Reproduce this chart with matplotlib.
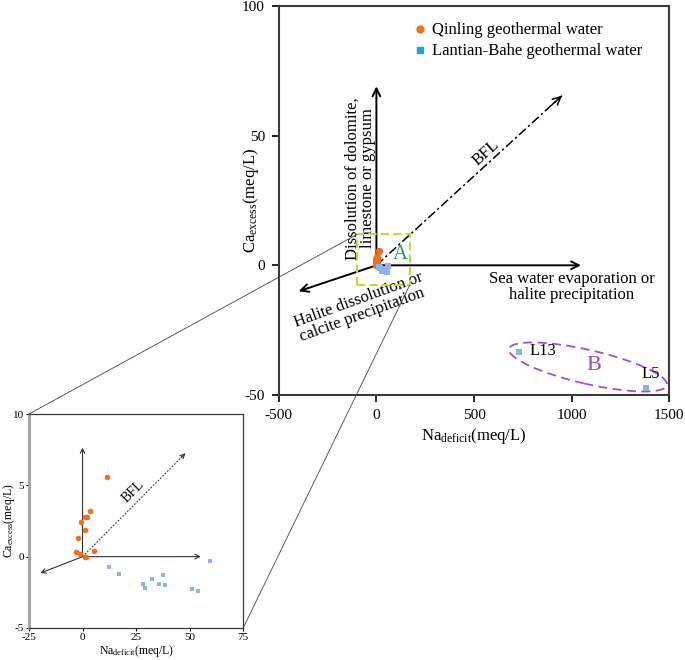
import matplotlib
matplotlib.use("Agg")
import matplotlib.pyplot as plt
from matplotlib.patches import Ellipse, Rectangle, ConnectionPatch
from matplotlib.lines import Line2D

plt.rcParams['font.family'] = ['Liberation Serif', 'DejaVu Serif']
plt.rcParams['mathtext.fontset'] = 'custom'
plt.rcParams['mathtext.rm'] = 'Liberation Serif'
plt.rcParams['mathtext.it'] = 'Liberation Serif:italic'
plt.rcParams['axes.unicode_minus'] = False

# ---- data ----
qin_na = [11.6, 3.3, 1.0, 2.1, -0.9, 1.0, -2.1, -3.2, -1.3, 5.2, 1.0, 1.5]
qin_ca = [5.6, 3.2, 2.8, 2.8, 2.4, 1.9, 1.3, 0.3, 0.2, 0.4, 0.0, 0.0]
lb_na = [12.2, 17.1, 28.0, 29.0, 32.6, 35.6, 37.8, 38.4, 50.9, 53.7, 59.4, 730, 1381]
lb_ca = [-0.7, -1.2, -1.9, -2.2, -1.6, -1.9, -1.3, -2.0, -2.3, -2.4, -0.3, -33.5, -47.3]
labels_pts = ["L13", "L5"]
main_xticks = [-500, 0, 500, 1000, 1500]
main_yticks = [-50, 0, 50, 100]
in_xticks = [-25, 0, 25, 50, 75]
in_yticks = [-5, 0, 5, 10]

orange = '#F07022'
blue = '#8DB4E2'
blue_leg = '#1FA3DA'
spine_c = '#3a3a3a'

fig = plt.figure(figsize=(6.85, 6.6), dpi=100)
ax = fig.add_axes([0.407, 0.4015, 0.570, 0.5895])
axin = fig.add_axes([0.0423, 0.0485, 0.3127, 0.3242])

# ---------------- main axes ----------------
ax.set_xlim(-500, 1500)
ax.set_ylim(-50, 100)
ax.set_xticks(main_xticks)
ax.set_yticks(main_yticks)
ax.tick_params(direction='out', length=5, width=1.2, labelsize=11, colors='black', pad=5)
for s in ax.spines.values():
    s.set_color(spine_c)
    s.set_linewidth(1.5)
ax.set_xlabel(r'Na$_{\rm deficit}$(meq/L)', fontsize=12, labelpad=3)
ax.set_ylabel(r'Ca$_{\rm excess}$(meq/L)', fontsize=12)
ax.yaxis.set_label_coords(-0.045, 0.5)

arr = dict(arrowstyle='->', lw=1.4, color='black', shrinkA=0, shrinkB=0, mutation_scale=14)
ax.annotate('', xy=(0, 69), xytext=(0, 0), arrowprops=arr)
ax.annotate('', xy=(1048, 0), xytext=(0, 0), arrowprops=arr)
ax.annotate('', xy=(-398, -10), xytext=(0, 0), arrowprops=arr)
ax.plot([0, 950], [0, 65.4], color='black', lw=1.1, ls=(0, (6, 2, 1.5, 2)))
ax.annotate('', xy=(950, 65.4), xytext=(900, 61.96),
            arrowprops=dict(arrowstyle='->', lw=1.1, color='black', shrinkA=0, shrinkB=0, mutation_scale=14))

ax.text(560, 43.5, 'BFL', rotation=42.5, fontsize=12, ha='center', va='center', rotation_mode='anchor')
ax.text(-83, 33.5, 'Dissolution of dolomite,\nlimestone or gypsum', rotation=90, fontsize=12,
        ha='center', va='center', multialignment='center', linespacing=0.95)
ax.text(-78, -16, 'Halite dissolution or\ncalcite precipitation', rotation=20, fontsize=12,
        ha='center', va='center', multialignment='left', rotation_mode='anchor', linespacing=0.95)
ax.text(1000, -8.5, 'Sea water evaporation or\nhalite precipitation', fontsize=12,
        ha='center', va='center', multialignment='center', linespacing=1.0)
ax.text(125, 4.2, 'A', color='#1E9E5A', fontsize=15, ha='center', va='center')

ax.add_patch(Rectangle((-100, -7.7), 270, 19.6, fill=False, ls=(0, (4, 2)), ec='#C3D93A', lw=1.5, zorder=4))

ax.scatter(qin_na, qin_ca, s=28, marker='o', color=orange, zorder=5, linewidths=0)
ax.scatter(lb_na, lb_ca, s=24, marker='s', color=blue, zorder=5, linewidths=0)

ax.text(786, -33, labels_pts[0], fontsize=12, ha='left', va='center')
ax.text(1407, -42, labels_pts[1], fontsize=12, ha='center', va='center')
ax.text(1114, -38.8, 'B', color='#A8479A', fontsize=16, ha='center', va='center')
ax.add_patch(Ellipse((0.792, 0.072), 0.415, 0.087, angle=-13, transform=ax.transAxes,
                     fill=False, ls=(0, (5, 3)), ec='#A050D0', lw=1.3, clip_on=False))

handles = [Line2D([], [], marker='o', ls='none', color=orange, markersize=5),
           Line2D([], [], marker='s', ls='none', color=blue_leg, markersize=5)]
ax.legend(handles, ['Qinling geothermal water', 'Lantian-Bahe geothermal water'],
          loc='upper left', bbox_to_anchor=(0.32, 0.975), frameon=False, fontsize=12,
          handletextpad=0.1, labelspacing=0.3, handlelength=1.2, borderaxespad=0)

# ---------------- inset ----------------
axin.set_xlim(-25, 75)
axin.set_ylim(-5, 10)
axin.set_xticks(in_xticks)
axin.set_yticks(in_yticks)
axin.tick_params(direction='out', length=2, width=0.8, labelsize=8, pad=1.5)
for k, s in axin.spines.items():
    s.set_color(spine_c)
    s.set_linewidth(0.9)
axin.spines['left'].set_color('#a0a0a0')
axin.spines['left'].set_linewidth(2)
axin.set_xlabel(r'Na$_{\rm deficit}$(meq/L)', fontsize=8.5, labelpad=0.5)
axin.set_ylabel(r'Ca$_{\rm excess}$(meq/L)', fontsize=8.5)
axin.yaxis.set_label_coords(-0.058, 0.5)

arr2 = dict(arrowstyle='->', lw=0.8, color='#333333', shrinkA=0, shrinkB=0, mutation_scale=8)
axin.annotate('', xy=(0, 7.64), xytext=(0, 0), arrowprops=arr2)
axin.annotate('', xy=(55.2, 0), xytext=(0, 0), arrowprops=arr2)
axin.annotate('', xy=(-19.7, -1.15), xytext=(0, 0), arrowprops=arr2)
axin.plot([0, 48.05], [0, 7.25], color='#333333', lw=0.8, ls=(0, (1.5, 1.5)))
axin.annotate('', xy=(48.05, 7.25), xytext=(46, 6.94), arrowprops=arr2)
axin.text(23.6, 4.56, 'BFL', rotation=45, fontsize=10, ha='center', va='center', rotation_mode='anchor')

axin.scatter(qin_na, qin_ca, s=16, marker='o', color=orange, zorder=5, linewidths=0)
axin.scatter(lb_na, lb_ca, s=12, marker='s', color=blue, zorder=5, linewidths=0)

# connectors
for xyA, xyB in [((-100, 11.9), (0, 1)), ((170, -7.7), (1, 0))]:
    cp = ConnectionPatch(xyA=xyA, coordsA=ax.transData, xyB=xyB, coordsB=axin.transAxes,
                         color='#444444', lw=0.6)
    fig.add_artist(cp)

fig.savefig('out.png', dpi=100)
